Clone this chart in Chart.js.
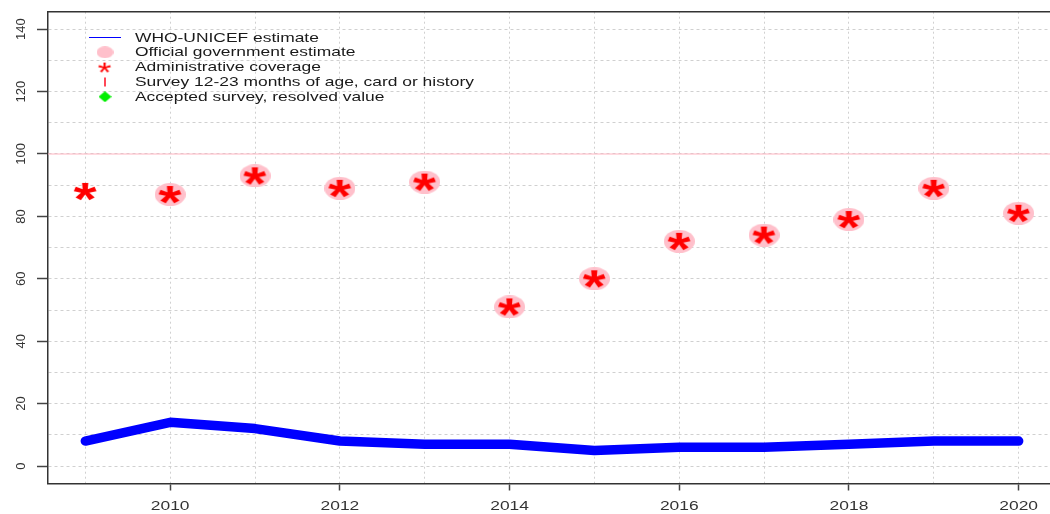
<!DOCTYPE html>
<html>
<head>
<meta charset="utf-8">
<script src="https://cdn.jsdelivr.net/npm/chart.js@4.4.0/dist/chart.umd.min.js"></script>
<style>
  html, body { margin: 0; padding: 0; background: #fff; overflow: hidden; }
  #wrap { position: relative; width: 1056px; height: 514px; }
</style>
</head>
<body>
<div id="wrap"><canvas id="c"></canvas></div>
<script>
// ---- data ----
const years = [2009, 2010, 2011, 2012, 2013, 2014, 2015, 2016, 2017, 2018, 2019, 2020];
const whoUnicefEstimate = [8, 14, 12, 8, 7, 7, 5, 6, 6, 7, 8, 8];
const officialYears = [2010, 2011, 2012, 2013, 2014, 2015, 2016, 2017, 2018, 2019, 2020];
const officialEstimate = [87, 93, 89, 91, 51, 60, 72, 74, 79, 89, 81];
const adminCoverage = [88, 87, 93, 89, 91, 51, 60, 72, 74, 79, 89, 81];
const surveyYears = [];
const surveyValues = [];
const acceptedYears = [];
const acceptedValues = [];
const yTickLabels = [0, 20, 40, 60, 80, 100, 120, 140];
const xTickLabels = [2010, 2012, 2014, 2016, 2018, 2020];
const referenceLevel = 100;

const FONT = '"Liberation Sans", Arial, sans-serif';
const TEXT_WIDEN = 1.34;          // horizontal stretch applied to horizontal text
const X_MIN = 2008.56, X_MAX = 2020.44;
const Y_MIN = -5.6, Y_MAX = 145.6;

const toPoints = (xs, ys) => xs.map((x, i) => ({ x, y: ys[i] }));

// ---- marker images ----
function ellipseMarker(w, h, color) {
  const c = document.createElement('canvas');
  c.width = w; c.height = h;
  const g = c.getContext('2d');
  g.fillStyle = color;
  g.beginPath();
  g.ellipse(w / 2, h / 2, w / 2, h / 2, 0, 0, Math.PI * 2);
  g.fill();
  return c;
}

function asteriskMarker(targetWidth, color, weight, widen) {
  const probe = document.createElement('canvas').getContext('2d');
  probe.font = weight + ' 100px ' + FONT;
  const m = probe.measureText('*');
  const w100 = (m.actualBoundingBoxLeft + m.actualBoundingBoxRight) * widen;
  const size = 100 * targetWidth / w100;
  const c = document.createElement('canvas');
  const dim = Math.ceil(targetWidth * 1.6);
  c.width = dim; c.height = dim;
  const g = c.getContext('2d');
  g.font = weight + ' ' + size + 'px ' + FONT;
  const mm = g.measureText('*');
  const A = mm.actualBoundingBoxAscent, D = mm.actualBoundingBoxDescent;
  const L = mm.actualBoundingBoxLeft, R = mm.actualBoundingBoxRight;
  g.fillStyle = color;
  g.translate(dim / 2, dim / 2);
  g.scale(widen, 1);
  g.fillText('*', -(R - L) / 2, -(D - A) / 2);
  return c;
}

function diamondMarker(w, h, color) {
  const c = document.createElement('canvas');
  c.width = w; c.height = h;
  const g = c.getContext('2d');
  g.fillStyle = color;
  g.beginPath();
  g.moveTo(w / 2, 0); g.lineTo(w, h / 2); g.lineTo(w / 2, h); g.lineTo(0, h / 2);
  g.closePath(); g.fill();
  return c;
}

const pinkDot = ellipseMarker(31, 23, '#FFC0CB');
const redStar = asteriskMarker(23, '#FF0000', 'bold', 1.3);
const legendPinkDot = ellipseMarker(17, 12, '#FFC0CB');
const legendStar = asteriskMarker(13, '#FF0000', 'normal', 1.3);
const legendDiamond = diamondMarker(13, 11, '#00EE00');

function wideText(ctx, text, x, y, align) {
  const w = ctx.measureText(text).width * TEXT_WIDEN;
  const left = align === 'center' ? x - w / 2 : x;
  ctx.save();
  ctx.translate(left, y);
  ctx.scale(TEXT_WIDEN, 1);
  ctx.textAlign = 'left';
  ctx.fillText(text, 0, 0);
  ctx.restore();
}

// ---- legend drawn inside the plot area ----
const legendItems = [
  { text: 'WHO-UNICEF estimate', kind: 'line', color: '#0000FF' },
  { text: 'Official government estimate', kind: 'img', img: legendPinkDot },
  { text: 'Administrative coverage', kind: 'img', img: legendStar },
  { text: 'Survey 12-23 months of age, card or history', kind: 'tick', color: '#FF3344' },
  { text: 'Accepted survey, resolved value', kind: 'img', img: legendDiamond }
];

const insideLegend = {
  id: 'insideLegend',
  afterDatasetsDraw(chart) {
    const ctx = chart.ctx;
    ctx.save();
    ctx.font = '13px ' + FONT;
    ctx.fillStyle = '#1a1a1a';
    ctx.textBaseline = 'middle';
    const x0 = 105, tx = 135, y0 = 37.5, dy = 14.8;
    legendItems.forEach((it, i) => {
      const y = y0 + i * dy;
      if (it.kind === 'line') {
        ctx.strokeStyle = it.color; ctx.lineWidth = 1;
        ctx.beginPath(); ctx.moveTo(89, y); ctx.lineTo(121, y); ctx.stroke();
      } else if (it.kind === 'tick') {
        ctx.strokeStyle = it.color; ctx.lineWidth = 1.8;
        ctx.beginPath(); ctx.moveTo(x0, y - 4.5); ctx.lineTo(x0, y + 4.5); ctx.stroke();
      } else {
        ctx.drawImage(it.img, x0 - it.img.width / 2, y - it.img.height / 2);
      }
      wideText(ctx, it.text, tx, y + 0.5, 'left');
    });
    ctx.restore();
  }
};

// ---- frame and axis labels ----
const frame = {
  id: 'frame',
  afterDraw(chart) {
    const { ctx, chartArea: a, scales: { x, y } } = chart;
    ctx.save();
    ctx.strokeStyle = '#333';
    ctx.lineWidth = 1.5;
    ctx.beginPath();
    ctx.moveTo(a.left, a.top); ctx.lineTo(a.right, a.top); ctx.lineTo(a.right, a.bottom);
    ctx.stroke();
    ctx.fillStyle = '#333';
    ctx.font = '13px ' + FONT;
    ctx.textBaseline = 'middle';
    ctx.textAlign = 'center';
    yTickLabels.forEach(v => {
      const py = y.getPixelForValue(v);
      ctx.save();
      ctx.translate(21, py);
      ctx.rotate(-Math.PI / 2);
      ctx.fillText(String(v), 0, 0);
      ctx.restore();
    });
    xTickLabels.forEach(v => {
      wideText(ctx, String(v), x.getPixelForValue(v), a.bottom + 23, 'center');
    });
    ctx.restore();
  }
};

new Chart(document.getElementById('c'), {
  type: 'scatter',
  data: {
    datasets: [
      {
        label: 'Administrative coverage',
        data: toPoints(years, adminCoverage),
        pointStyle: redStar, pointRadius: 10, showLine: false, order: 1
      },
      {
        label: 'Official government estimate',
        data: toPoints(officialYears, officialEstimate),
        pointStyle: pinkDot, pointRadius: 15, showLine: false, order: 2
      },
      {
        label: 'Survey 12-23 months of age, card or history',
        data: toPoints(surveyYears, surveyValues), showLine: false, order: 3
      },
      {
        label: 'Accepted survey, resolved value',
        data: toPoints(acceptedYears, acceptedValues), showLine: false, order: 3
      },
      {
        label: 'WHO-UNICEF estimate',
        type: 'line',
        data: toPoints(years, whoUnicefEstimate),
        borderColor: '#0000FF', borderWidth: 9.5,
        borderCapStyle: 'round', borderJoinStyle: 'round',
        pointRadius: 0, tension: 0, fill: false, order: 4
      },
      {
        label: 'reference',
        type: 'line',
        data: [{ x: X_MIN, y: referenceLevel }, { x: X_MAX, y: referenceLevel }],
        borderColor: '#FFB6C1', borderWidth: 1.2, pointRadius: 0, order: 5
      }
    ]
  },
  options: {
    responsive: true,
    maintainAspectRatio: false,
    animation: false,
    events: [],
    layout: { autoPadding: false, padding: { top: 11.7, right: 0, left: 0, bottom: 0 } },
    plugins: { legend: { display: false }, tooltip: { enabled: false }, title: { display: false } },
    scales: {
      x: {
        type: 'linear',
        min: X_MIN, max: X_MAX,
        afterBuildTicks: s => { s.ticks = years.map(v => ({ value: v })); },
        afterFit: s => { s.height = 30.5; s.paddingLeft = 0; s.paddingRight = 0; },
        ticks: { display: false },
        grid: {
          color: '#d0d0d0', lineWidth: 1,
          drawTicks: true, tickLength: 7, tickWidth: 1.5,
          tickColor: c => (c.tick && xTickLabels.includes(c.tick.value)) ? '#444' : 'rgba(0,0,0,0)'
        },
        border: { display: true, color: '#333', width: 1.5, dash: [2, 3] }
      },
      y: {
        type: 'linear',
        min: Y_MIN, max: Y_MAX,
        afterBuildTicks: s => {
          const t = [];
          for (let v = 0; v <= 140; v += 10) t.push({ value: v });
          s.ticks = t;
        },
        afterFit: s => { s.width = 48; s.paddingTop = 0; s.paddingBottom = 0; },
        ticks: { display: false },
        grid: {
          color: '#d0d0d0', lineWidth: 1,
          drawTicks: true, tickLength: 11, tickWidth: 1.5,
          tickColor: c => (c.tick && yTickLabels.includes(c.tick.value)) ? '#444' : 'rgba(0,0,0,0)'
        },
        border: { display: true, color: '#333', width: 1.5, dash: [3, 3] }
      }
    }
  },
  plugins: [insideLegend, frame]
});
</script>
</body>
</html>
